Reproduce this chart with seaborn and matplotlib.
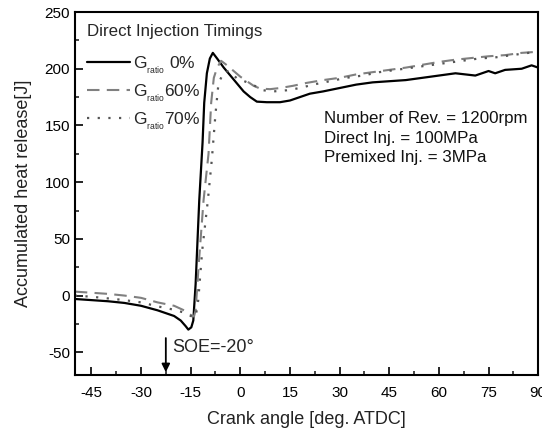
import matplotlib
matplotlib.use("Agg")
import matplotlib.pyplot as plt
import seaborn as sns
import pandas as pd
from matplotlib.ticker import MultipleLocator

# ---- data ----
x_g0 = [-50, -45, -40, -35, -30, -25, -20, -18, -16.5, -15.7, -14.8, -14.2, -13.5,
        -12.4, -11.4, -10.9, -10.1, -9.2, -8.3, -7, -5, -3, -1, 1, 3, 5, 8, 12,
        15, 18, 21, 25, 30, 35, 40, 45, 50, 55, 60, 65, 68, 71, 75, 77, 80, 85, 88, 90]
y_g0 = [-3, -4, -5, -6.5, -9, -13, -18, -22, -27, -30, -28, -22, 10,
        84, 135, 170, 196, 209, 214, 209, 201, 194, 187, 180, 175, 171, 170.5, 170.5,
        172, 175, 178, 180, 183, 186, 188, 189, 190, 192, 194, 196, 195, 194, 198, 196, 199, 200, 203, 201]

x_g60 = [-50, -45, -40, -35, -30, -25, -20, -17, -15, -14, -13.5, -12.5, -11.1, -9.6,
         -8.8, -8.0, -7, -5.8, -4, -2, 0, 2, 4, 6, 9, 12, 16, 20, 25, 30, 35, 40,
         45, 50, 55, 60, 65, 70, 75, 80, 85, 90]
y_g60 = [3.5, 2.5, 1.5, 0, -2, -6, -9, -13, -17, -18.5, -13, 30, 84, 125,
         170, 192, 201, 207, 203, 198, 193, 189, 185, 182.5, 182, 183, 185, 187.5, 190, 192, 195, 197,
         199, 201, 203.5, 206, 208, 209.5, 211, 212, 214, 215]

x_g70 = [-50, -45, -40, -35, -30, -25, -20, -17, -15, -13.5, -12.7, -11.5, -9.8, -8.6,
         -7.5, -6.6, -5, -3.5, -1, 3, 7, 10, 14, 18, 22, 27, 32, 37, 42, 47, 52,
         57, 62, 67, 72, 77, 82, 87, 90]
y_g70 = [0, -1, -2.5, -4, -6, -9.5, -12.5, -15, -18, -19, -4, 40, 84, 120,
         160, 187, 197, 198, 191.5, 187, 181, 180, 181, 183, 186, 189, 192, 194, 197, 199, 201,
         203, 205, 207, 209, 210, 212, 214, 215]

labels = [r"G$_{_{\mathregular{ratio}}}$ 0%", r"G$_{_{\mathregular{ratio}}}$60%",
          r"G$_{_{\mathregular{ratio}}}$70%"]
x_ticks = [-45, -30, -15, 0, 15, 30, 45, 60, 75, 90]
y_ticks = [-50, 0, 50, 100, 150, 200, 250]

sns.set_theme(style="white")
plt.rcParams["font.family"] = ["Liberation Sans", "DejaVu Sans"]
plt.rcParams["axes.unicode_minus"] = False

fig = plt.figure(figsize=(5.42, 4.30), dpi=100)
ax = fig.add_axes([0.138, 0.128, 0.855, 0.844])

series = [
    (x_g0, y_g0, labels[0], "black", "-", 1.6),
    (x_g60, y_g60, labels[1], "#808080", (0, (6, 3.5)), 1.5),
    (x_g70, y_g70, labels[2], "#555555", (0, (1, 3.8)), 1.6),
]
for xs, ys, lab, col, ls, lw in series:
    df = pd.DataFrame({"x": xs, "y": ys})
    sns.lineplot(data=df, x="x", y="y", ax=ax, color=col, linestyle=ls,
                 linewidth=lw, label=lab, sort=False, estimator=None)

ax.set_xlim(-50, 90)
ax.set_ylim(-70, 250)
ax.set_xticks(x_ticks)
ax.set_yticks(y_ticks)
ax.xaxis.set_minor_locator(MultipleLocator(7.5))
ax.yaxis.set_minor_locator(MultipleLocator(25))
ax.tick_params(axis="both", which="major", direction="in", length=6, width=1.2,
               labelsize=11, colors="black", bottom=True, left=True, top=False, right=False)
ax.tick_params(axis="both", which="minor", direction="in", length=3, width=1.2,
               bottom=True, left=True, top=False, right=False)
ax.tick_params(axis="x", pad=8)
for sp in ax.spines.values():
    sp.set_color("black")
    sp.set_linewidth(1.5)

ax.set_xlabel("Crank angle [deg. ATDC]", fontsize=13, color="#222222", labelpad=8)
ax.set_ylabel("Accumulated heat release[J]", fontsize=13, color="#222222", labelpad=9)

leg = ax.legend(loc="upper left", title="Direct Injection Timings", frameon=False,
                fontsize=12.5, title_fontsize=12.2, handlelength=2.5, handletextpad=0.15,
                labelspacing=0.4, borderaxespad=0.3)
leg._legend_box.align = "left"
leg._legend_box.sep = 11

ax.text(0.537, 0.727, "Number of Rev. = 1200rpm\nDirect Inj. = 100MPa\nPremixed Inj. = 3MPa",
        transform=ax.transAxes, fontsize=12.2, va="top", ha="left", linespacing=1.38,
        color="#111111")

ax.annotate("", xy=(-22.5, -70), xytext=(-22.5, -35),
            arrowprops=dict(arrowstyle="-|>", color="black", lw=1.3, mutation_scale=12))
ax.text(-20.7, -46, "SOE=-20\u00b0", fontsize=13, va="center", ha="left")

fig.savefig("out.png", dpi=100)
